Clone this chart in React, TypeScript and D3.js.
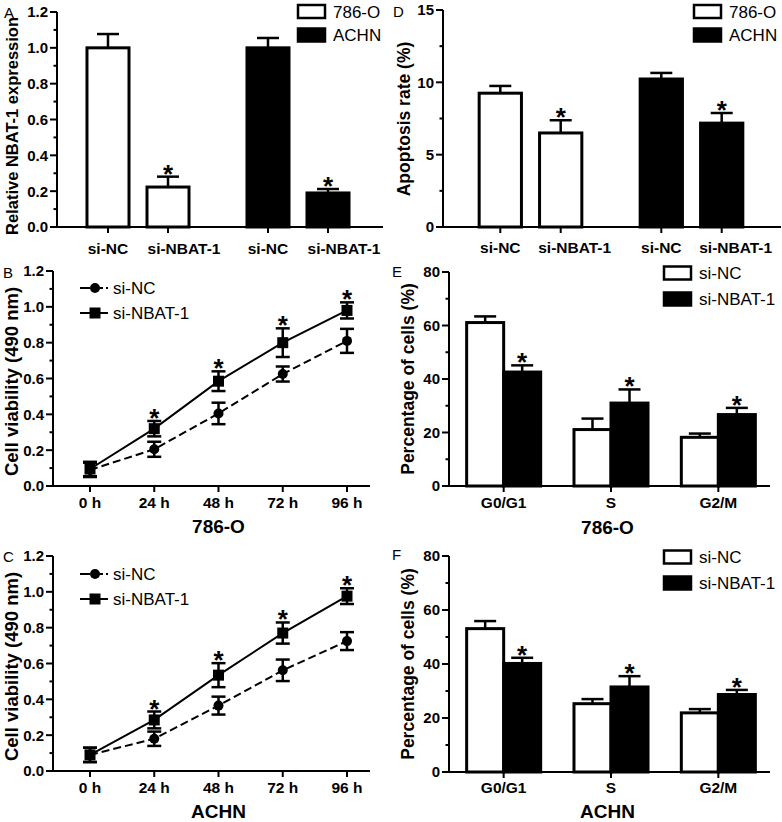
import React from "react";
import * as d3 from "d3";

const FONT = "Arial, 'Liberation Sans', Helvetica, sans-serif";

// ---------- DATA ----------
const cellLines = ["786-O", "ACHN"];
const siGroups = ["si-NC", "si-NBAT-1"];

// Panel A: relative NBAT-1 expression
const exprMean786 = [1.0, 0.223];
const exprErr786 = [0.077, 0.058];
const exprMeanACHN = [1.0, 0.19];
const exprErrACHN = [0.055, 0.022];
const exprTicks = [0, 0.2, 0.4, 0.6, 0.8, 1.0, 1.2];

// Panel D: apoptosis rate
const apopMean786 = [9.25, 6.5];
const apopErr786 = [0.5, 0.88];
const apopMeanACHN = [10.23, 7.18];
const apopErrACHN = [0.42, 0.7];
const apopTicks = [0, 5, 10, 15];

// Panels B, C: cell viability
const hours = [0, 24, 48, 72, 96];
const hourLabels = ["0 h", "24 h", "48 h", "72 h", "96 h"];
const via786NC = [0.09, 0.205, 0.405, 0.625, 0.81];
const via786NCErr = [0.04, 0.042, 0.06, 0.042, 0.067];
const via786NBAT = [0.095, 0.32, 0.585, 0.8, 0.98];
const via786NBATErr = [0.04, 0.043, 0.055, 0.08, 0.045];
const viaACHNNC = [0.09, 0.18, 0.365, 0.562, 0.725];
const viaACHNNCErr = [0.04, 0.04, 0.05, 0.06, 0.05];
const viaACHNNBAT = [0.09, 0.285, 0.535, 0.77, 0.976];
const viaACHNNBATErr = [0.04, 0.047, 0.067, 0.059, 0.044];
const viaStars = [false, true, true, true, true];
const viaTicks = [0, 0.2, 0.4, 0.6, 0.8, 1.0, 1.2];

// Panels E, F: cell cycle
const phases = ["G0/G1", "S", "G2/M"];
const cc786NC = [61.1, 21.1, 18.2];
const cc786NCErr = [2.3, 4.1, 1.4];
const cc786NBAT = [42.6, 31.0, 26.7];
const cc786NBATErr = [2.5, 5.1, 2.5];
const ccACHNNC = [53.1, 25.3, 21.9];
const ccACHNNCErr = [2.8, 1.7, 1.4];
const ccACHNNBAT = [40.2, 31.5, 28.7];
const ccACHNNBATErr = [2.1, 4.0, 1.7];
const ccTicks = [0, 20, 40, 60, 80];

// ---------- helpers ----------
function YAxis({ y, axisX, ticks, minor, fmt }: any) {
  const [r0, r1] = y.range();
  return (
    <g>
      <line x1={axisX} x2={axisX} y1={r0 + 1} y2={r1} stroke="#000" strokeWidth={2} />
      {minor.map((t: number, i: number) => (
        <line key={"m" + i} x1={axisX - 3.5} x2={axisX} y1={y(t)} y2={y(t)} stroke="#000" strokeWidth={2} />
      ))}
      {ticks.map((t: number, i: number) => (
        <g key={"t" + i}>
          <line x1={axisX - 7} x2={axisX} y1={y(t)} y2={y(t)} stroke="#000" strokeWidth={2} />
          <text x={axisX - 9} y={y(t)} dy="0.36em" textAnchor="end" fontFamily={FONT} fontWeight="bold" fontSize={15}>
            {fmt(t)}
          </text>
        </g>
      ))}
    </g>
  );
}

function YLabel({ x, cy, text, size }: any) {
  return (
    <text transform={`translate(${x},${cy}) rotate(-90)`} textAnchor="middle" fontFamily={FONT} fontWeight="bold" fontSize={size}>
      {text}
    </text>
  );
}

function Star({ x, capY }: any) {
  return (
    <text x={x} y={capY + 6} textAnchor="middle" fontFamily={FONT} fontWeight="bold" fontSize={26}>
      *
    </text>
  );
}

function Letter({ x, y, t }: any) {
  return (
    <text x={x} y={y} fontFamily={FONT} fontSize={15}>
      {t}
    </text>
  );
}

function BoxLegend({ x, ys, labels, fills }: any) {
  return (
    <g>
      {labels.map((l: string, i: number) => (
        <g key={i}>
          <rect x={x} y={ys[i] - 6.5} width={27} height={13} fill={fills[i]} stroke="#000" strokeWidth={2.5} />
          <text x={x + 35} y={ys[i]} dy="0.36em" fontFamily={FONT} fontSize={17}>
            {l}
          </text>
        </g>
      ))}
    </g>
  );
}

// Bar panel for A / D (two cell lines, each with si-NC / si-NBAT-1)
function GroupBarPanel({ axisX, axisRight, yTop, yBottom, yMax, ticks, minorStep, fmt, groupRange, means, errs, labelY, labelShift, yLabel, yLabelX, yLabelSize, yLabelCy, legendX, legendYs, letter, letterX, letterY }: any) {
  const y = d3.scaleLinear().domain([0, yMax]).range([yBottom, yTop]);
  const gx = d3.scaleBand().domain(cellLines).range(groupRange).padding(0);
  const ix = d3.scaleBand().domain(siGroups).range([0, gx.bandwidth()]).paddingInner(0.3).paddingOuter(0.483);
  const minor = d3.range(0, yMax + 1e-9, minorStep).filter((v) => !ticks.some((t: number) => Math.abs(t - v) < 1e-9));
  const bw = ix.bandwidth();
  return (
    <g>
      {cellLines.map((c, gi) =>
        siGroups.map((s, si) => {
          const x0 = (gx(c) as number) + (ix(s) as number);
          const cx = x0 + bw / 2;
          const v = means[gi][si];
          const e = errs[gi][si];
          const capY = y(v + e);
          return (
            <g key={c + s}>
              <line x1={cx} x2={cx} y1={y(v)} y2={capY} stroke="#000" strokeWidth={2.5} />
              <line x1={cx - 11} x2={cx + 11} y1={capY} y2={capY} stroke="#000" strokeWidth={2.5} />
              <rect x={x0} y={y(v)} width={bw} height={yBottom - y(v)} fill={gi === 0 ? "#fff" : "#000"} stroke="#000" strokeWidth={3} />
              {si === 1 && <Star x={cx} capY={capY} />}
              <line x1={cx} x2={cx} y1={yBottom} y2={yBottom + 6} stroke="#000" strokeWidth={2} />
              <text x={cx + (si === 1 ? labelShift : 0)} y={labelY} textAnchor="middle" fontFamily={FONT} fontWeight="bold" fontSize={15.5}>
                {s}
              </text>
            </g>
          );
        })
      )}
      <line x1={axisX - 1} x2={axisRight} y1={yBottom} y2={yBottom} stroke="#000" strokeWidth={2} />
      <YAxis y={y} axisX={axisX} ticks={ticks} minor={minor} fmt={fmt} />
      <YLabel x={yLabelX} cy={yLabelCy} text={yLabel} size={yLabelSize} />
      <BoxLegend x={legendX} ys={legendYs} labels={cellLines} fills={["#fff", "#000"]} />
      <Letter x={letterX} y={letterY} t={letter} />
    </g>
  );
}

// Bar panel for E / F (phases, si-NC open / si-NBAT-1 filled)
function PhaseBarPanel({ axisX, axisRight, yTop, yBottom, nc, ncErr, nb, nbErr, labelY, title, titleY, legendX, legendYs, letter, letterX, letterY }: any) {
  const y = d3.scaleLinear().domain([0, 80]).range([yBottom, yTop]);
  const gx = d3.scaleBand().domain(phases).range([axisX + 1, axisX + 323]).padding(0);
  const ix = d3.scaleBand().domain(siGroups).range([0, gx.bandwidth()]).paddingInner(0).paddingOuter(0.45);
  const minor = d3.range(10, 80, 20);
  const bw = ix.bandwidth();
  const series = [
    { m: nc, e: ncErr },
    { m: nb, e: nbErr },
  ];
  return (
    <g>
      {phases.map((p, pi) => (
        <g key={p}>
          {siGroups.map((s, si) => {
            const x0 = (gx(p) as number) + (ix(s) as number);
            const cx = x0 + bw / 2;
            const v = series[si].m[pi];
            const e = series[si].e[pi];
            const capY = y(v + e);
            return (
              <g key={s}>
                <line x1={cx} x2={cx} y1={y(v)} y2={capY} stroke="#000" strokeWidth={2.5} />
                <line x1={cx - 11} x2={cx + 11} y1={capY} y2={capY} stroke="#000" strokeWidth={2.5} />
                <rect x={x0} y={y(v)} width={bw} height={yBottom - y(v)} fill={si === 0 ? "#fff" : "#000"} stroke="#000" strokeWidth={3} />
                {si === 1 && <Star x={cx} capY={capY} />}
              </g>
            );
          })}
          <line x1={(gx(p) as number) + gx.bandwidth() / 2} x2={(gx(p) as number) + gx.bandwidth() / 2} y1={yBottom} y2={yBottom + 6} stroke="#000" strokeWidth={2} />
          <text x={(gx(p) as number) + gx.bandwidth() / 2} y={labelY} textAnchor="middle" fontFamily={FONT} fontWeight="bold" fontSize={15.5}>
            {p}
          </text>
        </g>
      ))}
      <line x1={axisX - 1} x2={axisRight} y1={yBottom} y2={yBottom} stroke="#000" strokeWidth={2} />
      <YAxis y={y} axisX={axisX} ticks={ccTicks} minor={minor} fmt={(v: number) => String(v)} />
      <YLabel x={axisX - 35} cy={(yTop + yBottom) / 2} text="Percentage of cells (%)" size={17.5} />
      <text x={(axisX + axisRight) / 2 - 2} y={titleY} textAnchor="middle" fontFamily={FONT} fontWeight="bold" fontSize={19}>
        {title}
      </text>
      <BoxLegend x={legendX} ys={legendYs} labels={siGroups} fills={["#fff", "#000"]} />
      <Letter x={letterX} y={letterY} t={letter} />
    </g>
  );
}

function LinePanel({ yTop, yBottom, nc, ncErr, nb, nbErr, title, labelY, titleY, legendYs, letter, letterY }: any) {
  const axisX = 53;
  const axisRight = 370;
  const x = d3.scaleLinear().domain([0, 96]).range([90, 347]);
  const y = d3.scaleLinear().domain([0, 1.2]).range([yBottom, yTop]);
  const line = d3
    .line<number>()
    .x((_, i) => x(hours[i]))
    .y((d) => y(d));
  const minor = d3.range(0.1, 1.2, 0.2);
  const capW = 14;
  const errBars = (m: number[], e: number[], key: string) =>
    m.map((v, i) => (
      <g key={key + i}>
        <line x1={x(hours[i])} x2={x(hours[i])} y1={y(v - e[i])} y2={y(v + e[i])} stroke="#000" strokeWidth={2.5} />
        <line x1={x(hours[i]) - capW / 2} x2={x(hours[i]) + capW / 2} y1={y(v - e[i])} y2={y(v - e[i])} stroke="#000" strokeWidth={2.5} />
        <line x1={x(hours[i]) - capW / 2} x2={x(hours[i]) + capW / 2} y1={y(v + e[i])} y2={y(v + e[i])} stroke="#000" strokeWidth={2.5} />
      </g>
    ));
  return (
    <g>
      <line x1={axisX - 1} x2={axisRight} y1={yBottom} y2={yBottom} stroke="#000" strokeWidth={2} />
      {hours.map((h, i) => (
        <g key={h}>
          <line x1={x(h)} x2={x(h)} y1={yBottom} y2={yBottom + 6} stroke="#000" strokeWidth={2} />
          <text x={x(h)} y={labelY} textAnchor="middle" fontFamily={FONT} fontWeight="bold" fontSize={15.5}>
            {hourLabels[i]}
          </text>
        </g>
      ))}
      <YAxis y={y} axisX={axisX} ticks={viaTicks} minor={minor} fmt={d3.format(".1f")} />
      <path d={line(nc) as string} fill="none" stroke="#000" strokeWidth={2} strokeDasharray="8,4" />
      <path d={line(nb) as string} fill="none" stroke="#000" strokeWidth={2} />
      {errBars(nc, ncErr, "nc")}
      {errBars(nb, nbErr, "nb")}
      {nc.map((v: number, i: number) => (
        <circle key={"c" + i} cx={x(hours[i])} cy={y(v)} r={5} fill="#000" />
      ))}
      {nb.map((v: number, i: number) => (
        <rect key={"s" + i} x={x(hours[i]) - 5.5} y={y(v) - 5.5} width={11} height={11} fill="#000" />
      ))}
      {hours.map((h, i) =>
        viaStars[i] ? <Star key={"st" + i} x={x(h)} capY={Math.min(y(nb[i] + nbErr[i]), y(nc[i] + ncErr[i]))} /> : null
      )}
      <YLabel x={18} cy={(yTop + yBottom) / 2 + 3} text="Cell viability (490 nm)" size={18.5} />
      <text x={x(48)} y={titleY} textAnchor="middle" fontFamily={FONT} fontWeight="bold" fontSize={19}>
        {title}
      </text>
      {/* legend */}
      <line x1={80} x2={108} y1={legendYs[0]} y2={legendYs[0]} stroke="#000" strokeWidth={2} strokeDasharray="10,3" />
      <circle cx={95} cy={legendYs[0]} r={5} fill="#000" />
      <text x={113} y={legendYs[0]} dy="0.36em" fontFamily={FONT} fontSize={17}>
        {siGroups[0]}
      </text>
      <line x1={80} x2={108} y1={legendYs[1]} y2={legendYs[1]} stroke="#000" strokeWidth={2} />
      <rect x={89.5} y={legendYs[1] - 5.5} width={11} height={11} fill="#000" />
      <text x={113} y={legendYs[1]} dy="0.36em" fontFamily={FONT} fontSize={17}>
        {siGroups[1]}
      </text>
      <Letter x={3} y={letterY} t={letter} />
    </g>
  );
}

export default function App() {
  return (
    <svg width={782} height={822} style={{ position: "absolute", left: 0, top: 0, background: "#fff" }}>
      <rect x={0} y={0} width={782} height={822} fill="#fff" />
      <GroupBarPanel
        axisX={57} axisRight={383} yTop={12} yBottom={227} yMax={1.2}
        ticks={exprTicks} minorStep={0.1} fmt={d3.format(".1f")}
        groupRange={[58, 378]}
        means={[exprMean786, exprMeanACHN]} errs={[exprErr786, exprErrACHN]}
        labelY={254} labelShift={16} yLabel="Relative NBAT-1 expression" yLabelX={18} yLabelSize={16.5} yLabelCy={126}
        legendX={298} legendYs={[11.5, 35]} letter="A" letterX={4} letterY={18}
      />
      <GroupBarPanel
        axisX={443} axisRight={781} yTop={10} yBottom={227} yMax={15}
        ticks={apopTicks} minorStep={2.5} fmt={(v: number) => String(v)}
        groupRange={[450, 772]}
        means={[apopMean786, apopMeanACHN]} errs={[apopErr786, apopErrACHN]}
        labelY={253} labelShift={14} yLabel="Apoptosis rate (%)" yLabelX={410} yLabelSize={17.5} yLabelCy={119}
        legendX={694} legendYs={[11.5, 35]} letter="D" letterX={393} letterY={17}
      />
      <LinePanel
        yTop={271} yBottom={486}
        nc={via786NC} ncErr={via786NCErr} nb={via786NBAT} nbErr={via786NBATErr}
        title="786-O" labelY={508} titleY={533} legendYs={[288, 313]} letter="B" letterY={278}
      />
      <LinePanel
        yTop={556} yBottom={771}
        nc={viaACHNNC} ncErr={viaACHNNCErr} nb={viaACHNNBAT} nbErr={viaACHNNBATErr}
        title="ACHN" labelY={793} titleY={818} legendYs={[574, 599]} letter="C" letterY={562}
      />
      <PhaseBarPanel
        axisX={449} axisRight={770} yTop={272} yBottom={486}
        nc={cc786NC} ncErr={cc786NCErr} nb={cc786NBAT} nbErr={cc786NBATErr}
        labelY={508} title="786-O" titleY={534} legendX={664} legendYs={[273, 299]}
        letter="E" letterX={392} letterY={277}
      />
      <PhaseBarPanel
        axisX={449} axisRight={770} yTop={556} yBottom={772}
        nc={ccACHNNC} ncErr={ccACHNNCErr} nb={ccACHNNBAT} nbErr={ccACHNNBATErr}
        labelY={793} title="ACHN" titleY={818} legendX={664} legendYs={[557, 583]}
        letter="F" letterX={392} letterY={560}
      />
    </svg>
  );
}
